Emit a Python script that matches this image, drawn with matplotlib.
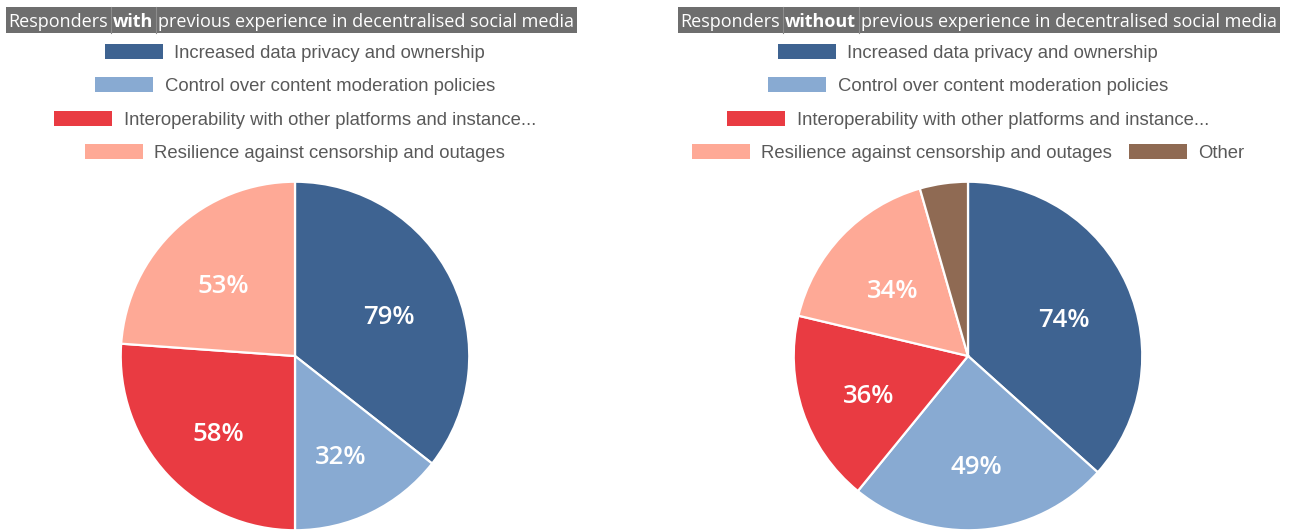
import numpy as np
import matplotlib.pyplot as plt
from matplotlib.patches import Patch, Rectangle

# Survey answers: share of responders choosing each benefit (multiple choice)
categories = [
    "Increased data privacy and ownership",
    "Control over content moderation policies",
    "Interoperability with other platforms and instance...",
    "Resilience against censorship and outages",
    "Other",
]
colors = ["#3e6391", "#88aad2", "#e93b42", "#fea996", "#8f6a53"]

with_experience = [79, 32, 58, 53]
without_experience = [74, 49, 36, 34, 9]

W, H = 1290, 532
TITLE_FONT = "Open Sans"
LEGEND_FONT = "Liberation Sans"

fig = plt.figure(figsize=(W / 100, H / 100), dpi=100)
fig.patch.set_facecolor("white")
renderer = fig.canvas.get_renderer()


def draw_title(x0, parts):
    """Grey header made of cells, one per text part; bold parts in bold."""
    top, bottom, pad = 7, 33, 2.5
    yc = 1 - (top + bottom) / 2 / H
    x = x0
    edges = []
    for text, bold in parts:
        t = fig.text((x + pad) / W, yc, text, color="white", fontsize=13,
                     family=TITLE_FONT, fontweight="bold" if bold else "normal",
                     ha="left", va="center_baseline", zorder=3)
        w = t.get_window_extent(renderer).width
        x += w + 2 * pad
        edges.append(x)
    fig.patches.append(Rectangle((x0 / W, 1 - bottom / H), (x - x0) / W,
                                 (bottom - top) / H, transform=fig.transFigure,
                                 facecolor="#6e6e6e", edgecolor="none", zorder=1))
    for e in edges[:-1]:
        fig.lines.append(plt.Line2D([e / W, e / W], [1 - bottom / H, 1 - top / H],
                                    transform=fig.transFigure, color="#8c8c8c",
                                    lw=0.8, zorder=2))


def draw_legend(cx, rows):
    for y, idx in zip([53, 86, 120, 153], rows):
        handles = [Patch(facecolor=colors[i], edgecolor="none") for i in idx]
        labels = [categories[i] for i in idx]
        fig.legend(handles, labels, loc="center", bbox_to_anchor=(cx / W, 1 - y / H),
                   ncol=len(idx), frameon=False, borderpad=0, borderaxespad=0,
                   handlelength=3.15, handleheight=0.88, handletextpad=0.6,
                   columnspacing=0.9, labelcolor="#595959",
                   prop={"family": LEGEND_FONT, "size": 13.3})


def draw_pie(cx, values):
    r = 176
    cy = 356
    ax = fig.add_axes([(cx - r) / W, (H - cy - r) / H, 2 * r / W, 2 * r / H])
    wedges, _ = ax.pie(values, colors=colors[:len(values)], startangle=90,
                       counterclock=False,
                       wedgeprops={"edgecolor": "white", "linewidth": 1.6})
    ax.set_xlim(-1.01, 1.01)
    ax.set_ylim(-1.01, 1.01)
    ax.set_aspect("equal")
    ax.axis("off")
    # percentage labels sit a little below the radial midpoint;
    # the small "Other" slice stays unlabelled
    for w, v in zip(wedges, values):
        if v < 15:
            continue
        ang = np.deg2rad((w.theta1 + w.theta2) / 2)
        ax.text(0.6 * np.cos(ang), 0.6 * np.sin(ang) - 0.042, f"{v}%",
                color="white", fontsize=18.5, family=TITLE_FONT,
                fontweight="semibold", ha="center", va="center")


draw_title(6, [("Responders", False), ("with", True),
               ("previous experience in decentralised social media", False)])
draw_title(678, [("Responders", False), ("without", True),
                 ("previous experience in decentralised social media", False)])

draw_legend(295, [[0], [1], [2], [3]])
draw_legend(968, [[0], [1], [2], [3, 4]])

draw_pie(295, with_experience)
draw_pie(968, without_experience)

fig.savefig("out.png", dpi=100)
